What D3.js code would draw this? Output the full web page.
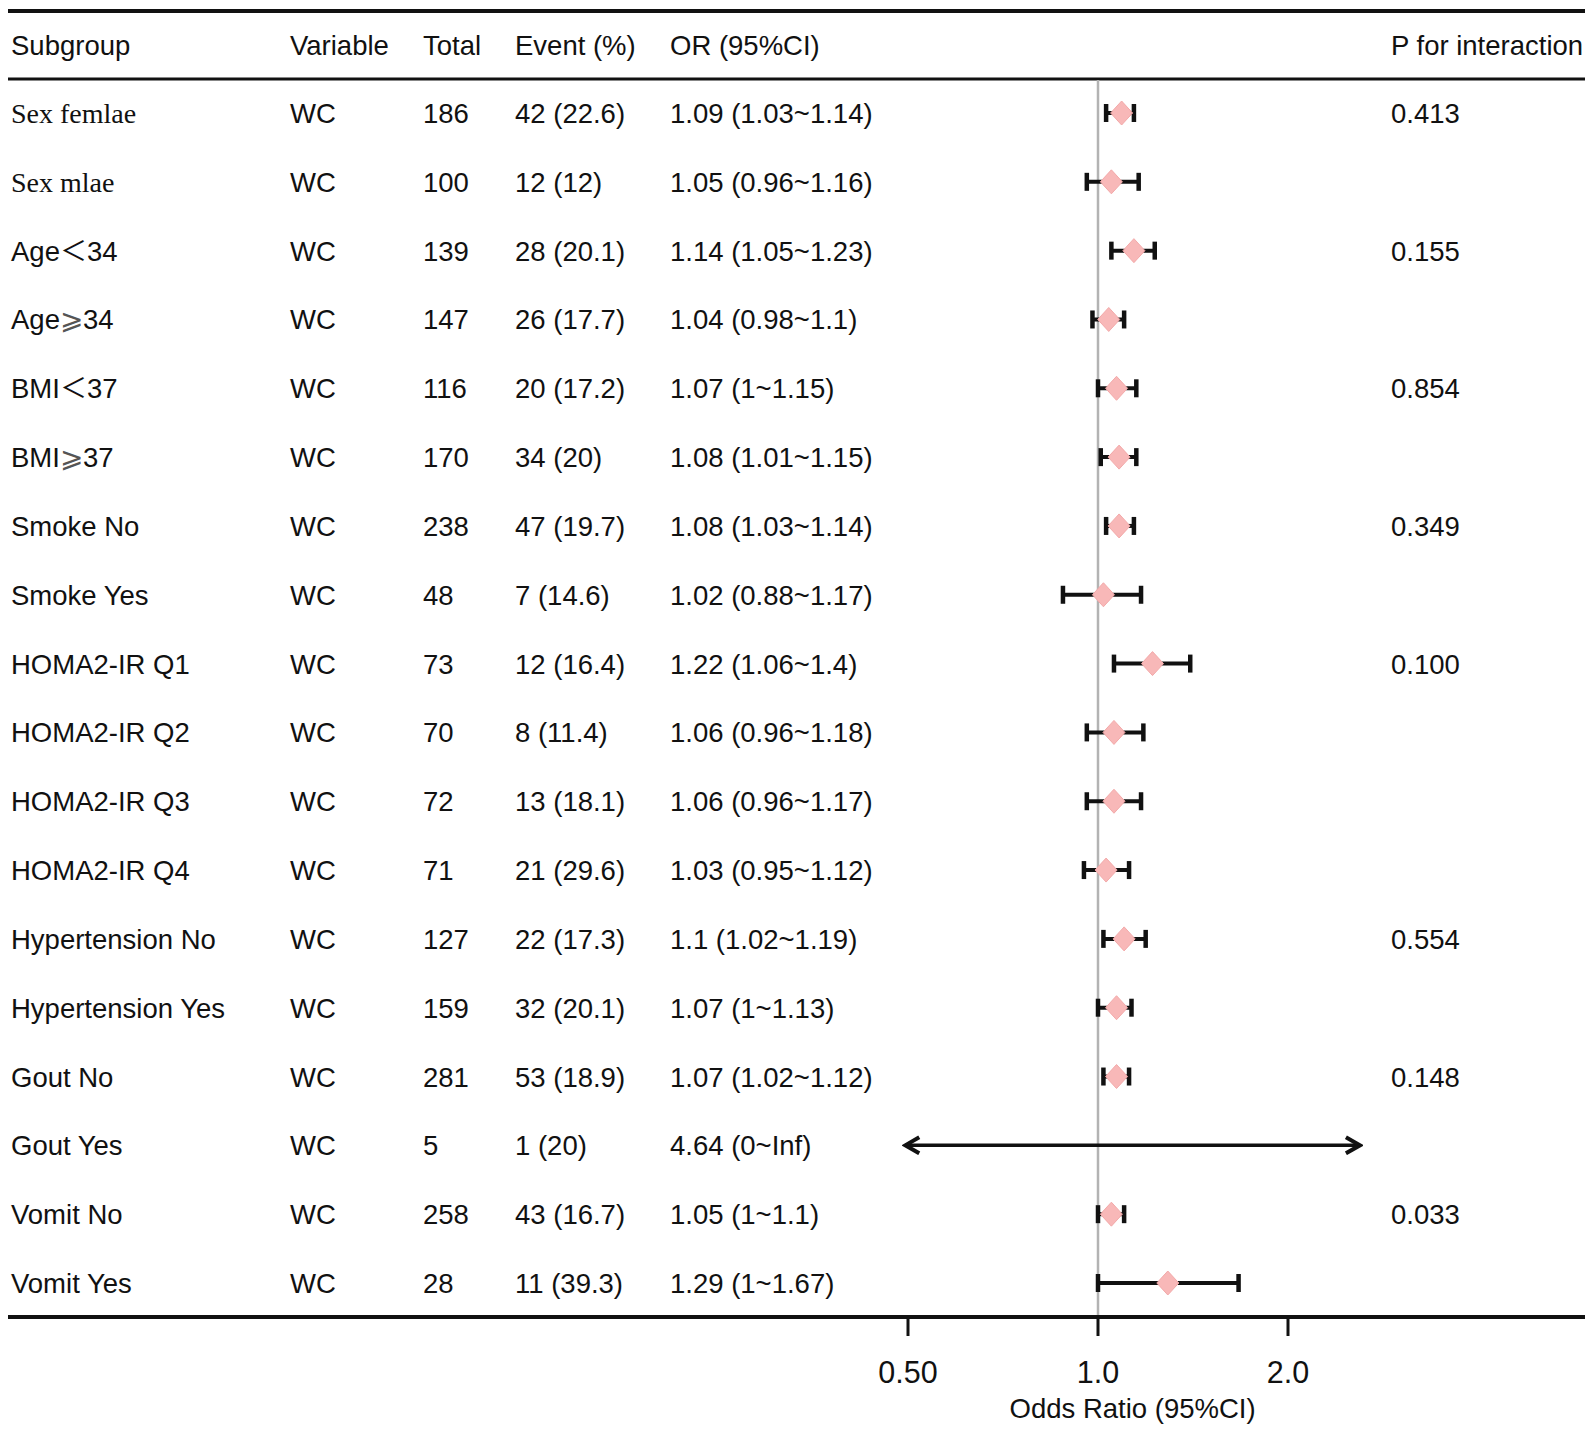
<!DOCTYPE html>
<html>
<head>
<meta charset="utf-8">
<script src="https://cdn.jsdelivr.net/npm/d3@7"></script>
<style>
	body { margin: 0; background: #fff; }
	svg text { font-family: 'Liberation Sans', Arial, sans-serif; fill: #111; }
</style>
</head>
<body>
<div id="chart"></div>
<script>
// ? table columns
const subgroups = ['Sex femlae', 'Sex mlae', 'Age＜34', 'Age⩾34', 'BMI＜37', 'BMI⩾37', 'Smoke No', 'Smoke Yes',
	'HOMA2-IR Q1', 'HOMA2-IR Q2', 'HOMA2-IR Q3', 'HOMA2-IR Q4', 'Hypertension No', 'Hypertension Yes',
	'Gout No', 'Gout Yes', 'Vomit No', 'Vomit Yes']
const variables = ['WC', 'WC', 'WC', 'WC', 'WC', 'WC', 'WC', 'WC', 'WC', 'WC', 'WC', 'WC', 'WC', 'WC', 'WC', 'WC', 'WC', 'WC']
const totals = [186, 100, 139, 147, 116, 170, 238, 48, 73, 70, 72, 71, 127, 159, 281, 5, 258, 28]
const events = [42, 12, 28, 26, 20, 34, 47, 7, 12, 8, 13, 21, 22, 32, 53, 1, 43, 11]
const eventPct = [22.6, 12, 20.1, 17.7, 17.2, 20, 19.7, 14.6, 16.4, 11.4, 18.1, 29.6, 17.3, 20.1, 18.9, 20, 16.7, 39.3]
const oddsRatio = [1.09, 1.05, 1.14, 1.04, 1.07, 1.08, 1.08, 1.02, 1.22, 1.06, 1.06, 1.03, 1.1, 1.07, 1.07, 4.64, 1.05, 1.29]
const ciLower = [1.03, 0.96, 1.05, 0.98, 1, 1.01, 1.03, 0.88, 1.06, 0.96, 0.96, 0.95, 1.02, 1, 1.02, 0, 1, 1]
const ciUpper = [1.14, 1.16, 1.23, 1.1, 1.15, 1.15, 1.14, 1.17, 1.4, 1.18, 1.17, 1.12, 1.19, 1.13, 1.12, Infinity, 1.1, 1.67]
const pInteraction = ['0.413', '', '0.155', '', '0.854', '', '0.349', '', '0.100', '', '', '', '0.554', '', '0.148', '', '0.033', '']
const xTicks = [0.5, 1, 2]
const xTickLabels = ['0.50', '1.0', '2.0']
const xLimits = [0.495, 2.6] // ? clip range of the axis (arrows go here)

const headers = ['Subgroup', 'Variable', 'Total', 'Event (%)', 'OR (95%CI)']

const width = 1595
const height = 1435
const lineLeft = 8
const lineRight = 1585
const topLine = 11
const headLine = 79
const bottomLine = 1317
const colX = [11, 290, 423, 515, 670]
const pX = 1391
const cjkFont = "'Noto Sans CJK SC', 'Noto Sans CJK JP', sans-serif"
const serifFont = "'Liberation Serif', 'Times New Roman', serif"

const rows = subgroups.map((s, i) => ({
	subgroup: s,
	variable: variables[i],
	total: totals[i],
	event: `${events[i]} (${eventPct[i]})`,
	or: oddsRatio[i],
	lo: ciLower[i],
	hi: ciUpper[i],
	orText: `${oddsRatio[i]} (${ciLower[i]}~${ciUpper[i] === Infinity ? 'Inf' : ciUpper[i]})`,
	p: pInteraction[i],
}))

const x = d3.scaleLog().domain([0.5, 2]).range([908, 1288])
const y = d3.scalePoint().domain(d3.range(rows.length)).range([113, 1283])

const svg = d3
	.create('svg')
	.attr('width', width)
	.attr('height', height)
	.attr('viewBox', [0, 0, width, height])

svg.append('rect').attr('width', width).attr('height', height).attr('fill', '#fff')

// ? arrow marker for clipped CIs
const defs = svg.append('defs')
defs
	.append('marker')
	.attr('id', 'arr')
	.attr('viewBox', '0 0 20 20')
	.attr('refX', 17)
	.attr('refY', 10)
	.attr('markerWidth', 20)
	.attr('markerHeight', 20)
	.attr('markerUnits', 'userSpaceOnUse')
	.attr('orient', 'auto-start-reverse')
	.append('path')
	.attr('d', 'M3,2 L17,10 L3,18')
	.attr('fill', 'none')
	.attr('stroke', '#111')
	.attr('stroke-width', 4)

// ? header
const head = svg.append('g')
head
	.selectAll('text')
	.data(headers)
	.join('text')
	.attr('x', (d, i) => colX[i])
	.attr('y', 55)
	.attr('font-size', 27.5)
	.text((d) => d)
head.append('text').attr('x', pX).attr('y', 55).attr('font-size', 27.5).text('P for interaction')

// ? horizontal rules
svg.append('line').attr('x1', lineLeft).attr('x2', lineRight).attr('y1', topLine).attr('y2', topLine)
	.attr('stroke', '#111').attr('stroke-width', 4)
svg.append('line').attr('x1', lineLeft).attr('x2', lineRight).attr('y1', headLine).attr('y2', headLine)
	.attr('stroke', '#111').attr('stroke-width', 3)

// ? reference line at OR = 1
svg.append('line')
	.attr('x1', x(1)).attr('x2', x(1))
	.attr('y1', headLine + 1).attr('y2', bottomLine)
	.attr('stroke', '#b3b3b3').attr('stroke-width', 2.5)

// ? table body
const body = svg.append('g').attr('font-size', 27.5)

// subgroup labels: serif for the "Sex" rows, CJK glyph for the fullwidth symbols
const sub = body
	.append('g')
	.selectAll('text')
	.data(rows)
	.join('text')
	.attr('x', colX[0])
	.attr('y', (d, i) => y(i) + 10)
	.style('font-family', (d) => (d.subgroup.startsWith('Sex') ? serifFont : null))
	.attr('font-size', (d) => (d.subgroup.startsWith('Sex') ? 28 : null))
sub.each(function (d) {
	const t = d3.select(this)
	const parts = d.subgroup.split(/([＜⩾])/)
	parts.forEach((p) => {
		if (!p) return
		const sp = t.append('tspan').text(p)
		if (p === '＜') sp.style('font-family', cjkFont).attr('font-size', 27)
		if (p === '⩾') sp.attr('fill', '#555')
	})
})

const cols = [
	(d) => d.variable,
	(d) => d.total,
	(d) => d.event,
	(d) => d.orText,
]
cols.forEach((fn, c) => {
	body
		.append('g')
		.selectAll('text')
		.data(rows)
		.join('text')
		.attr('x', colX[c + 1])
		.attr('y', (d, i) => y(i) + 10)
		.text(fn)
})
body
	.append('g')
	.selectAll('text')
	.data(rows)
	.join('text')
	.attr('x', pX)
	.attr('y', (d, i) => y(i) + 10)
	.text((d) => d.p)

// ? CI whiskers
const clip = (v) => Math.max(xLimits[0], Math.min(xLimits[1], v))
const ci = svg.append('g')
rows.forEach((d, i) => {
	const cy = y(i)
	const loOut = d.lo < xLimits[0]
	const hiOut = d.hi > xLimits[1]
	const x1 = x(clip(d.lo))
	const x2 = x(clip(d.hi))
	const ln = ci.append('line')
		.attr('x1', x1).attr('x2', x2).attr('y1', cy).attr('y2', cy)
		.attr('stroke', '#111').attr('stroke-width', loOut || hiOut ? 3.5 : 4)
	if (loOut) ln.attr('marker-start', 'url(#arr)')
	else ci.append('line').attr('x1', x1).attr('x2', x1).attr('y1', cy - 9).attr('y2', cy + 9)
		.attr('stroke', '#111').attr('stroke-width', 4.5)
	if (hiOut) ln.attr('marker-end', 'url(#arr)')
	else ci.append('line').attr('x1', x2).attr('x2', x2).attr('y1', cy - 9).attr('y2', cy + 9)
		.attr('stroke', '#111').attr('stroke-width', 4.5)
})

// ? point estimates (diamonds)
svg.append('g')
	.selectAll('path')
	.data(rows.filter((d) => d.or <= xLimits[1]))
	.join('path')
	.attr('transform', (d) => `translate(${x(d.or)},${y(rows.indexOf(d))})`)
	.attr('d', 'M0,-12 L11,0 L0,12 L-11,0 Z')
	.attr('fill', '#f8b8b8')
	.attr('stroke', '#f3a9a9')
	.attr('stroke-width', 1)

// ? bottom rule doubles as x axis
svg.append('line').attr('x1', lineLeft).attr('x2', lineRight).attr('y1', bottomLine).attr('y2', bottomLine)
	.attr('stroke', '#111').attr('stroke-width', 4)

const axis = svg.append('g')
axis.selectAll('line')
	.data(xTicks)
	.join('line')
	.attr('x1', (d) => x(d)).attr('x2', (d) => x(d))
	.attr('y1', bottomLine).attr('y2', bottomLine + 19)
	.attr('stroke', '#111').attr('stroke-width', 3)
axis.selectAll('text')
	.data(xTicks)
	.join('text')
	.attr('x', (d) => x(d))
	.attr('y', 1383)
	.attr('text-anchor', 'middle')
	.attr('font-size', 30.5)
	.text((d, i) => xTickLabels[i])

svg.append('text')
	.attr('x', (x(xLimits[0]) + x(xLimits[1])) / 2)
	.attr('y', 1418)
	.attr('text-anchor', 'middle')
	.attr('font-size', 27.5)
	.text('Odds Ratio (95%CI)')

document.getElementById('chart').appendChild(svg.node())
</script>
</body>
</html>
